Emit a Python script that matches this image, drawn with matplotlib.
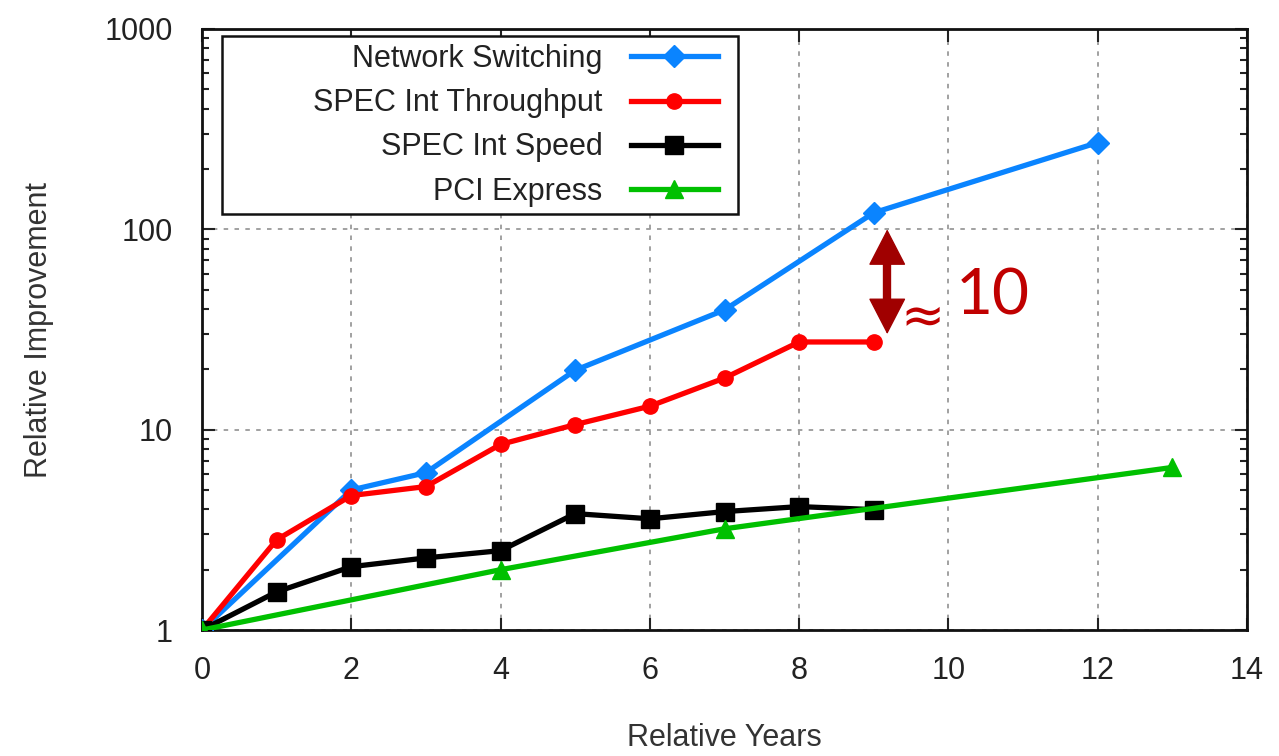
import matplotlib
matplotlib.use("Agg")
import matplotlib.pyplot as plt
from matplotlib import font_manager
from matplotlib.patches import Rectangle
from matplotlib.ticker import FixedLocator, FixedFormatter, LogLocator, NullFormatter

# Data
ns_x = [0, 2, 3, 5, 7, 9, 12]
ns_y = [1, 5.0, 6.1, 19.8, 39.6, 121, 271]
tp_x = [0, 1, 2, 3, 4, 5, 6, 7, 8, 9]
tp_y = [1, 2.82, 4.69, 5.2, 8.44, 10.6, 13.1, 18.1, 27.4, 27.4]
sp_x = [0, 1, 2, 3, 4, 5, 6, 7, 8, 9]
sp_y = [1, 1.55, 2.07, 2.29, 2.49, 3.81, 3.59, 3.90, 4.13, 3.99]
pci_x = [0, 4, 7, 13]
pci_y = [1, 2.0, 3.2, 6.48]
labels = ["Network Switching", "SPEC Int Throughput", "SPEC Int Speed", "PCI Express"]
x_ticks = [0, 2, 4, 6, 8, 10, 12, 14]
y_ticks = [1, 10, 100, 1000]
y_tick_labels = ["1", "10", "100", "1000"]

try:
    font_manager.findfont(font_manager.FontProperties(family='Liberation Sans Narrow'),
                          fallback_to_default=False)
    main_font = 'Liberation Sans Narrow'
    fs = 26
    lfs = 29
except Exception:
    main_font = 'Liberation Sans'
    fs = 22
    lfs = 22

plt.rcParams['font.family'] = [main_font, 'DejaVu Sans']

W, H = 1279, 756
fig = plt.figure(figsize=(W/100, H/100), dpi=100)
L, R, T, B = 202, 1247, 29, 630
ax = fig.add_axes([L/W, 1-B/H, (R-L)/W, (B-T)/H])

def ax_frac(px, py):
    return ((px-L)/(R-L), 1-(py-T)/(B-T))

lw = 3.8
ax.plot(ns_x, ns_y, color='#0a84ff', lw=lw, marker='D', ms=11, label=labels[0], zorder=3)
ax.plot(tp_x, tp_y, color='#ff0000', lw=lw, marker='o', ms=11, label=labels[1], zorder=4)
ax.plot(sp_x, sp_y, color='#000000', lw=lw, marker='s', ms=12.5, label=labels[2], zorder=5)
ax.plot(pci_x, pci_y, color='#00c000', lw=lw, marker='^', ms=13, label=labels[3], zorder=6)

ax.set_yscale('log')
ax.set_xlim(0, 14)
ax.set_ylim(1, 1000)
ax.xaxis.set_major_locator(FixedLocator(x_ticks))
ax.yaxis.set_major_locator(FixedLocator(y_ticks))
ax.yaxis.set_major_formatter(FixedFormatter(y_tick_labels))
ax.yaxis.set_minor_locator(LogLocator(base=10, subs=range(2, 10)))
ax.yaxis.set_minor_formatter(NullFormatter())

ax.tick_params(which='both', direction='in', top=True, right=True, labelsize=fs,
               colors='#222222', width=1.5)
ax.tick_params(which='major', length=9)
ax.tick_params(which='minor', length=5)
ax.tick_params(axis='y', which='major', pad=21)
ax.tick_params(axis='x', which='major', pad=19)
for s in ax.spines.values():
    s.set_linewidth(2)
    s.set_color('#111111')

ax.grid(True, which='major', color='#9a9a9a', linestyle=(0, (2.5, 3.5)), lw=1.3)

ax.set_xlabel("Relative Years", fontsize=fs, color='#333333', labelpad=26)
ax.set_ylabel("Relative Improvement", fontsize=fs, color='#333333', labelpad=36)

# Legend (frame drawn separately to match the wide box)
x0, y0 = ax_frac(222, 214)
x1, y1 = ax_frac(738, 36)
frame = Rectangle((x0, y0), x1-x0, y1-y0, transform=ax.transAxes, fill=True,
                  facecolor='white', edgecolor='#111111', lw=1.8, zorder=9)
ax.add_patch(frame)
ax_, ay_ = ax_frac(718, 44)
leg = ax.legend(loc='upper right', bbox_to_anchor=(ax_, ay_), markerfirst=False,
                prop=font_manager.FontProperties(family=[main_font, 'DejaVu Sans'], size=lfs),
                frameon=False,
                handlelength=2.85, borderpad=0, labelspacing=0.465, handletextpad=0.93,
                borderaxespad=0)
for t in leg.get_texts():
    t.set_color('#222222')
leg.set_zorder(10)

# Annotation: double-headed arrow
arrow_x = 9.18
ax.plot([arrow_x, arrow_x], [80, 37], color='#a00000', lw=6, solid_capstyle='butt', zorder=8)
ax.annotate("", xy=(arrow_x, 100), xytext=(arrow_x, 30),
            arrowprops=dict(arrowstyle='<|-|>,head_length=1.2,head_width=0.62',
                            lw=1, color='#a00000', mutation_scale=20,
                            shrinkA=0, shrinkB=0), zorder=8)
ax.text(9.36, 36, "≈", fontsize=38, color='#c00000', ha='left', va='center',
        family=['DejaVu Sans'], zorder=8)
ax.text(10.1, 46, "10", fontsize=46, color='#c00000', ha='left', va='center',
        family=['Lato', 'DejaVu Sans'], zorder=8)

fig.savefig("out.png", dpi=100)
